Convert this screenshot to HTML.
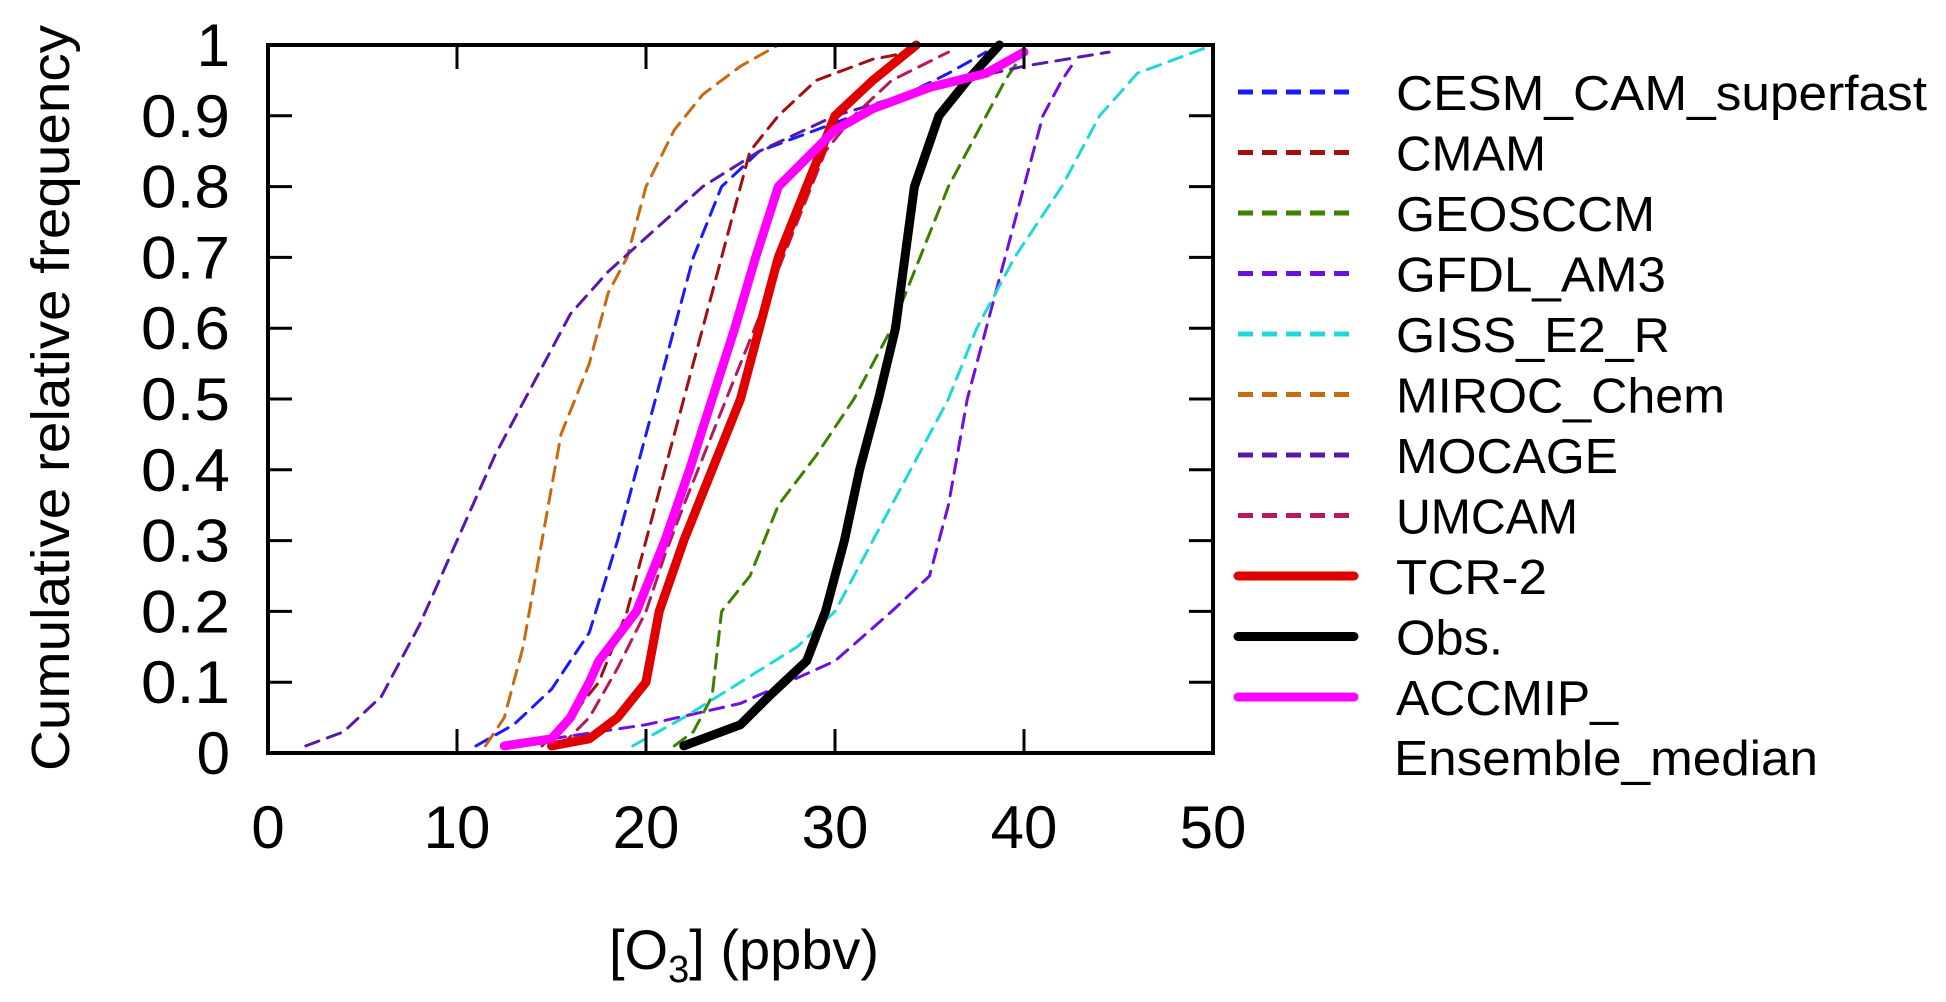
<!DOCTYPE html>
<html><head><meta charset="utf-8"><style>
html,body{margin:0;padding:0;background:#fff;}
svg{display:block;font-family:"Liberation Sans",sans-serif;}
</style></head><body>
<svg id="chart" width="1946" height="1002" viewBox="0 0 1946 1002" xmlns="http://www.w3.org/2000/svg">
<g id="series"></g>
<g id="axes"></g>
<g id="legend"></g>
<text x="50" y="398" font-size="54" text-anchor="middle" textLength="746" lengthAdjust="spacingAndGlyphs" transform="rotate(-90 50 398)" dy="19">Cumulative relative frequency</text>
<text x="744" y="969" font-size="56" text-anchor="middle">[O<tspan font-size="38" dy="13">3</tspan><tspan dy="-13">] (ppbv)</tspan></text>
</svg>
<script>
const xTicks = [0,10,20,30,40,50];
const yTicks = [0,0.1,0.2,0.3,0.4,0.5,0.6,0.7,0.8,0.9,1];
const yTickLabels = ["0","0.1","0.2","0.3","0.4","0.5","0.6","0.7","0.8","0.9","1"];
const seriesNames = ["CESM_CAM_superfast","CMAM","GEOSCCM","GFDL_AM3","GISS_E2_R","MIROC_Chem","MOCAGE","UMCAM","TCR-2","Obs.","ACCMIP_ Ensemble_median"];
const cesmX = [11,13,15,17,18.5,19.5,20.5,21.5,22.5,24,26,29,33,36,38];
const cesmY = [0.01,0.04,0.09,0.17,0.3,0.4,0.5,0.6,0.7,0.8,0.85,0.88,0.92,0.96,0.99];
const cmamX = [14.5,16,17.5,19,20,21.5,23,24.5,25.5,27,29,32,34];
const cmamY = [0.01,0.05,0.1,0.2,0.3,0.45,0.6,0.75,0.85,0.9,0.95,0.98,0.99];
const geosX = [21.5,22.5,23.5,24,25.5,27,29,31,33,34.5,36,38,39,40];
const geosY = [0.01,0.03,0.08,0.2,0.25,0.35,0.42,0.5,0.6,0.7,0.8,0.9,0.95,0.99];
const gfdlX = [15,20,25,30,33,35,36,37,38,39,40,41,42,42.5];
const gfdlY = [0.02,0.04,0.07,0.13,0.2,0.25,0.35,0.5,0.6,0.7,0.8,0.9,0.95,0.97];
const gissX = [19.3,22,25,28,30,32,34,36,37.5,39.5,42,44,46,48,50];
const gissY = [0.01,0.05,0.1,0.15,0.2,0.3,0.4,0.5,0.6,0.7,0.8,0.9,0.96,0.98,1.0];
const mirocX = [11.5,12.5,13.5,14.5,15.5,17,18,19,20,21.5,23,25,27];
const mirocY = [0.01,0.05,0.15,0.3,0.45,0.55,0.65,0.7,0.8,0.88,0.93,0.97,1.0];
const mocageX = [2,4,6,8,10,12,14,16,18,20.5,23,26,30,35,40,44.5];
const mocageY = [0.01,0.03,0.08,0.18,0.3,0.42,0.52,0.62,0.68,0.74,0.8,0.85,0.9,0.94,0.97,0.99];
const umcamX = [15.5,17,18.5,20,21,22,23.5,25,26.5,28,29.5,31,33,36];
const umcamY = [0.01,0.05,0.12,0.2,0.28,0.35,0.45,0.55,0.65,0.75,0.85,0.9,0.95,0.99];
const tcrX = [15,17,18.5,20,20.7,22,23.5,25,26,27,28.5,30,32,34.3];
const tcrY = [0.01,0.02,0.05,0.1,0.2,0.3,0.4,0.5,0.6,0.7,0.8,0.9,0.95,1.0];
const obsX = [22,23,25,26.5,27.3,28.5,29.5,30.5,31.3,32.3,33.2,33.7,34.2,35.5,37,38.7];
const obsY = [0.01,0.02,0.04,0.08,0.1,0.13,0.2,0.3,0.4,0.5,0.6,0.7,0.8,0.9,0.95,1.0];
const accX = [12.5,15,16,17,17.5,19.5,21,22.3,23.5,24.7,25.8,27,28.5,30,32,35,38,40];
const accY = [0.01,0.02,0.05,0.1,0.13,0.2,0.3,0.4,0.5,0.6,0.7,0.8,0.84,0.88,0.91,0.94,0.96,0.99];

const L=268,R=1213,T=45,B=753;
const sx=v=>L+(v-0)/(50-0)*(R-L);
const sy=v=>B-(v-0)/(1-0)*(B-T);
const NS="http://www.w3.org/2000/svg";
function mk(tag,attrs,parent){const e=document.createElementNS(NS,tag);for(const k in attrs)e.setAttribute(k,attrs[k]);parent.appendChild(e);return e;}

const defs=[
 [cesmX,cesmY,"#1a1aff",3,true,"series-cesm"],
 [cmamX,cmamY,"#a01010",3,true,"series-cmam"],
 [geosX,geosY,"#3c8000",3,true,"series-geosccm"],
 [gfdlX,gfdlY,"#7010e0",3,true,"series-gfdl"],
 [gissX,gissY,"#20d8d8",3,true,"series-giss"],
 [mirocX,mirocY,"#c86a10",3,true,"series-miroc"],
 [mocageX,mocageY,"#5a18aa",3,true,"series-mocage"],
 [umcamX,umcamY,"#b8185e",3,true,"series-umcam"],
 [tcrX,tcrY,"#e00000",9,false,"series-tcr2"],
 [obsX,obsY,"#000000",9,false,"series-obs"],
 [accX,accY,"#ff00ff",9,false,"series-accmip"]
];
const sg=document.getElementById('series');
defs.forEach(d=>{
  const pts=d[0].map((x,i)=>sx(x).toFixed(1)+","+sy(d[1][i]).toFixed(1)).join(" ");
  const p=mk('polyline',{points:pts,fill:"none",stroke:d[2],"stroke-width":d[3],"stroke-linejoin":"round","stroke-linecap":"round"},sg);
  if(d[4])p.setAttribute('stroke-dasharray','14 9');
  
  
});

const ag=document.getElementById('axes');
const frame=mk('rect',{x:L,y:T,width:R-L,height:B-T,fill:"none",stroke:"#000","stroke-width":4},ag);


xTicks.forEach(v=>{
  const x=sx(v);
  mk('line',{x1:x,y1:B,x2:x,y2:B-24,stroke:"#000","stroke-width":3},ag);
  mk('line',{x1:x,y1:T,x2:x,y2:T+24,stroke:"#000","stroke-width":3},ag);
  const t=mk('text',{x:x,y:848,"font-size":60,"text-anchor":"middle"},ag);
  t.textContent=String(v);
  
  
});
yTicks.forEach((v,i)=>{
  const y=sy(v);
  mk('line',{x1:L,y1:y,x2:L+24,y2:y,stroke:"#000","stroke-width":3},ag);
  mk('line',{x1:R,y1:y,x2:R-24,y2:y,stroke:"#000","stroke-width":3},ag);
  const lab=yTickLabels[i];
  const attrs={x:230,y:y+21,"font-size":60,"text-anchor":"end"};
  if(lab.length>1){attrs.textLength=89;attrs.lengthAdjust="spacingAndGlyphs";}
  const t=mk('text',attrs,ag);
  t.textContent=lab;
  
  
});

const lg=document.getElementById('legend');
const lens=[531,150,259,270,274,329,222,182,151,107,222];
defs.forEach((d,i)=>{
  const y=92+i*60.5;
  const ln=mk('line',{x1:1238,y1:y,x2:1354,y2:y,stroke:d[2],"stroke-width":d[4]?5:9,"stroke-linecap":d[4]?"butt":"round"},lg);
  if(d[4])ln.setAttribute('stroke-dasharray','15 9');
  
  
  const name=seriesNames[i];
  if(name.indexOf(' ')>0){
    const parts=name.split(' ');
    const t1=mk('text',{x:1396,y:y+18,"font-size":49,textLength:lens[i],lengthAdjust:"spacingAndGlyphs"},lg);
    t1.textContent=parts[0];
    
    
    const t2=mk('text',{x:1394,y:y+78,"font-size":49,textLength:424,lengthAdjust:"spacingAndGlyphs"},lg);
    t2.textContent=parts[1];
    
    
  } else {
    const t=mk('text',{x:1396,y:y+18,"font-size":49,textLength:lens[i],lengthAdjust:"spacingAndGlyphs"},lg);
    t.textContent=name;
    
    
  }
});
</script>
</body></html>
